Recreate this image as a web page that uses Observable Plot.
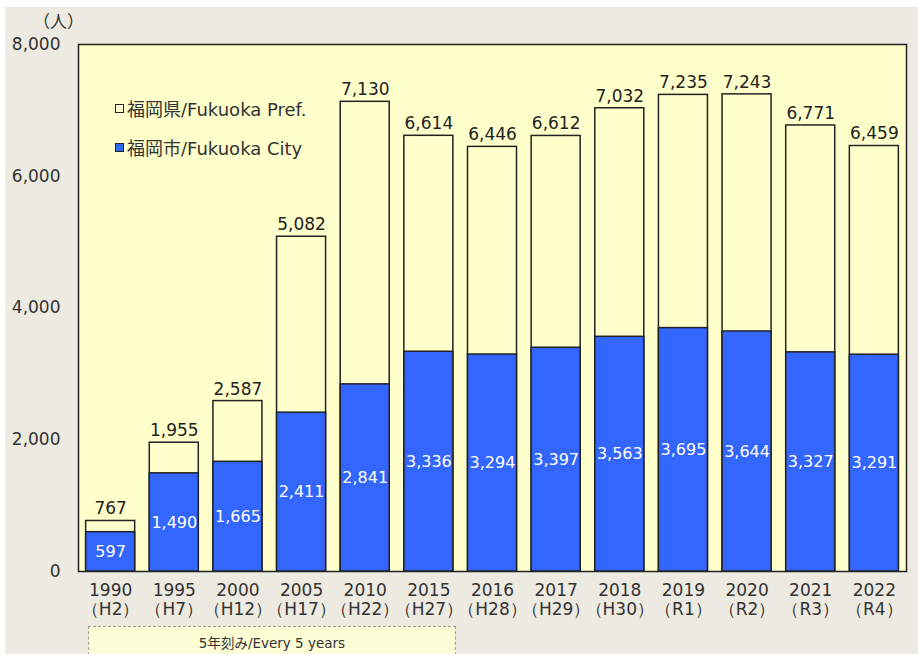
<!DOCTYPE html>
<html>
<head>
<meta charset="utf-8">
<script src="https://cdn.jsdelivr.net/npm/d3@7"></script>
<script src="https://cdn.jsdelivr.net/npm/@observablehq/plot@0.6"></script>
<style>
  html, body { margin: 0; padding: 0; background: #ffffff; }
  #wrap { position: relative; width: 918px; height: 654px; overflow: hidden; font-family: "DejaVu Sans", "Noto Sans CJK JP", sans-serif; color: #333; }
  #bg { position: absolute; left: 5px; top: 7px; right: 0; bottom: 0; background: #edeae1; }
  #chart { position: absolute; left: 0; top: 0; }
  .unit { position: absolute; left: 33px; top: 8px; font-size: 17px; color: #333; }
  .leg { position: absolute; left: 115px; font-size: 18px; color: #333; white-space: nowrap; line-height: 20px; }
  .leg span.sw { display: inline-block; width: 7px; height: 7px; border: 1px solid #222; margin-right: 3px; vertical-align: 3px; }
  .note { position: absolute; left: 88px; top: 626px; width: 368px; height: 40px; border: 1px dashed #999; background: #fdfdd6; font-size: 13.5px; text-align: center; padding-top: 5px; box-sizing: border-box; color: #333; }
</style>
</head>
<body>
<div id="wrap">
  <div id="bg"></div>
  <div id="chart"></div>
  <div class="unit">（人）</div>
  <div class="leg" style="top:100px"><span class="sw" style="background:#ffffcc"></span>福岡県/Fukuoka Pref.</div>
  <div class="leg" style="top:139px"><span class="sw" style="background:#3366ff"></span>福岡市/Fukuoka City</div>
  <div class="note">5年刻み/Every 5 years</div>
</div>
<script>
const years = ["1990","1995","2000","2005","2010","2015","2016","2017","2018","2019","2020","2021","2022"];
const eras = ["（H2）","（H7）","（H12）","（H17）","（H22）","（H27）","（H28）","（H29）","（H30）","（R1）","（R2）","（R3）","（R4）"];
const prefTotal = [767, 1955, 2587, 5082, 7130, 6614, 6446, 6612, 7032, 7235, 7243, 6771, 6459];
const cityValues = [597, 1490, 1665, 2411, 2841, 3336, 3294, 3397, 3563, 3695, 3644, 3327, 3291];
const yTicks = [0, 2000, 4000, 6000, 8000];

const data = years.map((y, i) => ({year: y, era: eras[i], total: prefTotal[i], city: cityValues[i]}));
const fmt = d3.format(",");

const chart = Plot.plot({
  width: 918,
  height: 654,
  marginLeft: 78,
  marginRight: 12,
  marginTop: 44,
  marginBottom: 83,
  style: {background: "transparent", fontFamily: "DejaVu Sans, sans-serif", color: "#333"},
  x: {domain: years, paddingInner: 0.23, paddingOuter: 0.12, round: false, label: null},
  y: {domain: [0, 8000], label: null},
  marks: [
    Plot.frame({fill: "#ffffcc", stroke: "#222", strokeWidth: 1.5}),
    Plot.barY(data, {x: "year", y: "total", fill: "#ffffcc", stroke: "#222", strokeWidth: 1.5}),
    Plot.barY(data, {x: "year", y: "city", fill: "#3366ff", stroke: "#222", strokeWidth: 1.5}),
    Plot.text(data, {x: "year", y: "total", text: d => fmt(d.total), dy: -12, fontSize: 17, fill: "#222"}),
    Plot.text(data, {x: "year", y: d => d.city / 2, text: d => fmt(d.city), fill: "white", fontSize: 16}),
    Plot.axisY({ticks: yTicks, tickFormat: d => fmt(d), tickSize: 0, tickPadding: 18, fontSize: 17, label: null}),
    Plot.axisX({tickSize: 0, tickPadding: 12, fontSize: 17, label: null, tickFormat: d => d}),
    Plot.axisX({tickSize: 0, tickPadding: 31, fontSize: 17, label: null, tickFormat: d => eras[years.indexOf(d)]})
  ]
});
document.getElementById("chart").appendChild(chart);
</script>
</body>
</html>
